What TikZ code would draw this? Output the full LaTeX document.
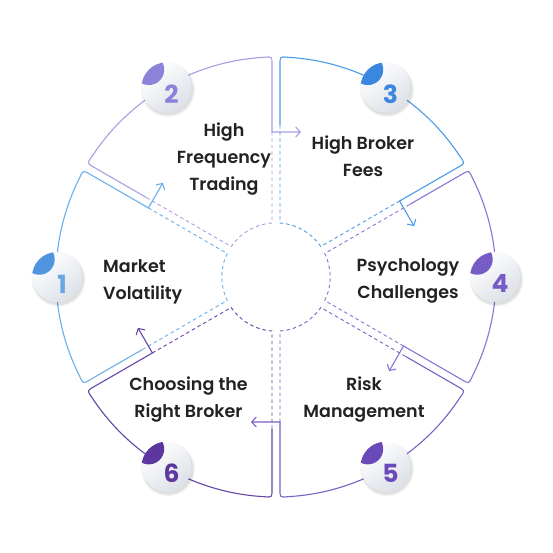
\documentclass[tikz,border=0pt]{standalone}
\usepackage{fontspec}
\setmainfont{Poppins}
\newfontfamily\popsb{Poppins SemiBold}
\newfontfamily\popb{Poppins Bold}
\usetikzlibrary{arrows.meta,calc,shadows}
\definecolor{lineA}{HTML}{6CB0EA}\definecolor{badA}{HTML}{4F94DE}
\definecolor{lineB}{HTML}{A79FE2}\definecolor{badB}{HTML}{8C82DA}
\definecolor{lineC}{HTML}{4C9BE8}\definecolor{badC}{HTML}{3B86DE}
\definecolor{lineD}{HTML}{8B74D3}\definecolor{badD}{HTML}{775CC8}
\definecolor{lineE}{HTML}{7C60C4}\definecolor{badE}{HTML}{6A4AB8}
\definecolor{lineF}{HTML}{6446A8}\definecolor{badF}{HTML}{5B379E}
\definecolor{txt}{HTML}{222222}
\definecolor{badgelight}{HTML}{FFFFFF}
\definecolor{badgedark}{HTML}{DCE1E8}
\tikzset{
  segline/.style={line width=1.1pt},
  segdash/.style={line width=0.9pt, dash pattern=on 3.5pt off 3pt},
  label/.style={text=txt, font=\popsb\fontsize{17.5}{27}\selectfont, inner sep=0pt},
  numtext/.style={font=\popb\fontsize{25}{25}\selectfont, inner sep=0pt}
}
\newcommand\drawsector[3]{%
  \draw[segline,#3,-{Straight Barb[length=4.5pt,width=10pt]}]
    ($(#2:152)+(#2-90:4)$) coordinate (s#1a)
    -- ($(#2:213)+(#2-90:4)$)
    .. controls ($(#2:220.5)+(#2-90:4)$) .. (#2-3.2:220)
    arc[start angle=#2-3.2, end angle=#1+3.2, radius=220]
    .. controls ($(#1:220.5)+(#1+90:4)$) .. ($(#1:213)+(#1+90:4)$)
    -- ($(#1:145)+(#1+90:4)$) coordinate (s#1b)
    -- ++(#1-90:29);
  \draw[segdash,#3] (s#1b) -- ($(#1:54)+(#1+90:4)$)
    arc[start angle=#1+4.24, end angle=#2-4.24, radius=54.15]
    -- (s#1a);
}
\newcommand\badge[4]{%
  \begin{scope}[shift={(#1:219)}]
    \fill[black, opacity=0.05] (1.5,-2.5) circle (27);
    \fill[black, opacity=0.08] (1.5,-2.5) circle (25.5);
    \shade[shading=axis, top color=badgelight, bottom color=badgedark, shading angle=35] (0,0) circle (25);
    \begin{scope}
      \clip (0,0) circle (25);
      \fill[#3] (135:25) circle (15.4);
    \end{scope}
    \node[numtext, text=#4] (n#2) at (5,-7) {#2};
  \end{scope}
}
\begin{document}
\begin{tikzpicture}[x=1pt,y=1pt]
\fill[white] (-276,-276) rectangle (277,277);
\useasboundingbox (-276,-276) rectangle (277,277);
\drawsector{150}{210}{lineA}
\drawsector{90}{150}{lineB}
\drawsector{30}{90}{lineC}
\drawsector{-30}{30}{lineD}
\drawsector{-90}{-30}{lineE}
\drawsector{-150}{-90}{lineF}
\badge{180}{1}{badA}{badA!85!white}
\badge{120}{2}{badB}{badB}
\badge{60}{3}{badC}{badC}
\badge{0}{4}{badD}{badD}
\badge{-60}{5}{badE}{badE}
\badge{-120}{6}{badF}{badF}
\node[label, align=left, anchor=west] (t1) at (-173,-4.5) {Market\\Volatility};
\node[label, align=center] (t2) at (-52,118) {High\\Frequency\\Trading};
\node[label, align=center] (t3) at (87,120.5) {High Broker\\Fees};
\node[label, align=center] (t4) at (132,-3.5) {Psychology\\Challenges};
\node[label, align=center] (t5) at (88,-122.5) {Risk\\Management};
\node[label, align=center] (t6) at (-87.5,-122.5) {Choosing the\\Right Broker};
\end{tikzpicture}
\end{document}
